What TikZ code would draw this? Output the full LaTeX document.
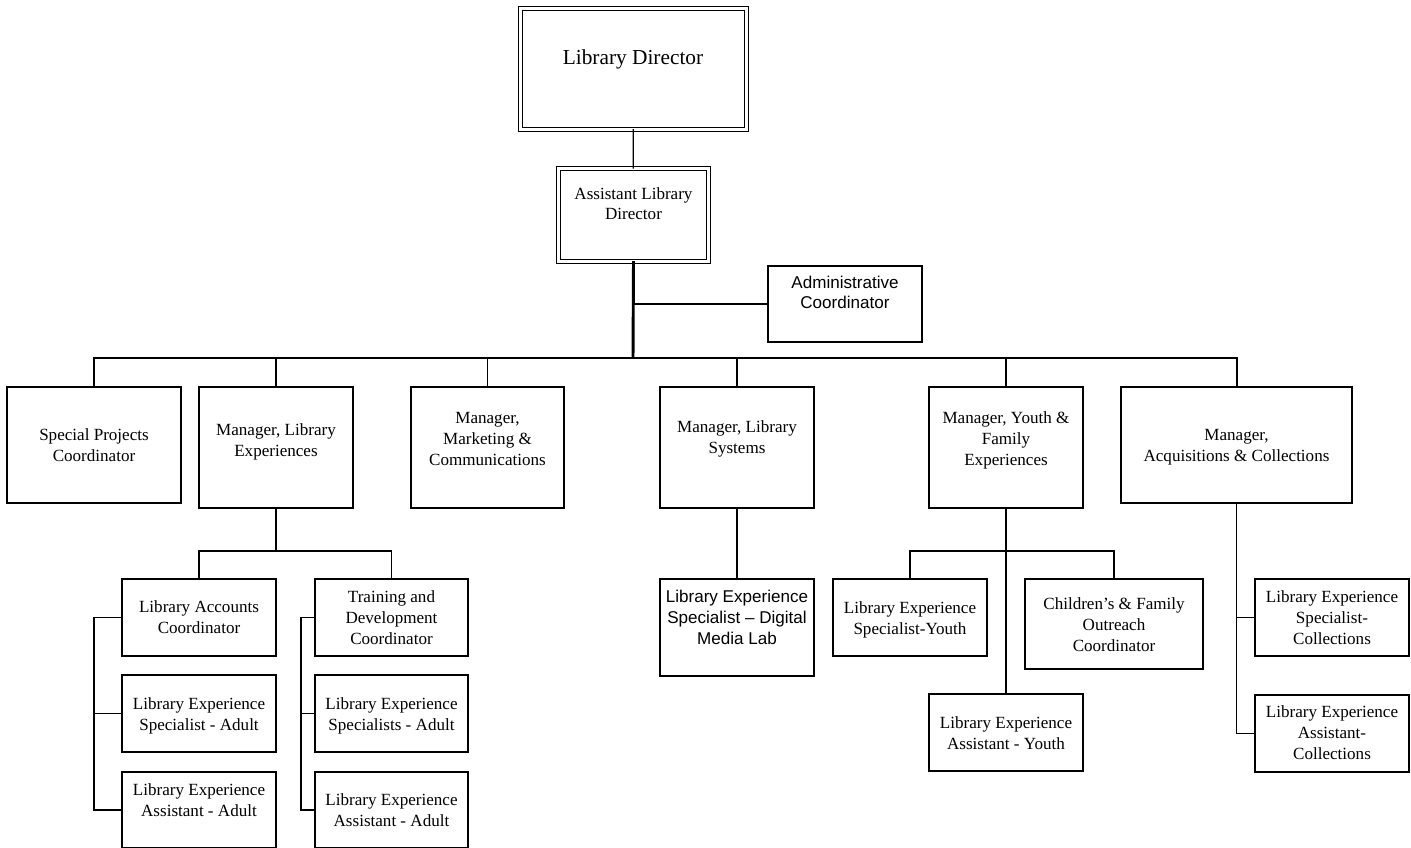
\documentclass[tikz,border=0pt]{standalone}
\usepackage{fontspec}
\setmainfont{Liberation Serif}
\newfontfamily\sansf{Liberation Sans}
\tikzset{
  box/.style={draw, rectangle, line width=0.9pt, inner sep=0pt, outer sep=0pt},
  dbox/.style={draw, rectangle, line width=0.75pt, double, double distance=2.25pt, inner sep=0pt, outer sep=0pt},
  txt/.style={align=center, inner sep=0pt, anchor=base, font=\fontsize{12.8}{15.4}\selectfont},
  link/.style={line width=0.9pt},
  bracket/.style={line width=1.1pt},
  trunk/.style={line width=2.2pt},
  busline/.style={line width=1.5pt},
}
% #6 = baseline of the last text line
\newcommand\obox[8]{%
  \node[box, minimum width={(#4-#2)*0.75pt}, minimum height={(#5-#3)*0.75pt}] (#1) at ({(#2+#4)/2},{(#3+#5)/2}) {};
  \node[txt,#7] (#1-t) at ({(#2+#4)/2},#6) {#8};}
\begin{document}
\begin{tikzpicture}[x=0.75pt,y=-0.75pt]
\clip (0,0) rectangle (1411,847);
\fill[white] (0,0) rectangle (1411,847);
% top
\node[dbox, minimum width={226*0.75pt}, minimum height={121*0.75pt}] (ld) at (633,68.5) {};
\node[txt, font=\fontsize{16}{19}\selectfont] (ld-t) at (633,64) {Library Director};
\node[dbox, minimum width={149.5*0.75pt}, minimum height={92.5*0.75pt}] (ald) at (633.5,214.75) {};
\node[txt, font=\fontsize{12.8}{14.3}\selectfont] (ald-t) at (633.5,219) {Assistant Library\\Director};
\obox{adm}{768}{266}{922}{342}{308}{font=\sansf\fontsize{12.8}{14.3}\selectfont}{Administrative\\Coordinator}
% level 2
\obox{sp}{7}{387}{181}{503}{461.5}{}{Special Projects\\Coordinator}
\obox{mle}{199}{387}{353}{508}{456.5}{}{Manager, Library\\Experiences}
\obox{mkt}{411}{387}{564}{508}{465}{}{Manager,\\Marketing \&\\Communications}
\obox{ls}{660}{387}{814}{508}{453.5}{}{Manager, Library\\Systems}
\obox{yth}{929}{387}{1083}{508}{465}{}{Manager, Youth \&\\Family\\Experiences}
\obox{acq}{1121}{387}{1352}{503}{461.5}{}{Manager,\\Acquisitions \& Collections}
% level 3 under library experiences
\obox{acc}{122}{579}{276}{656}{633.5}{}{Library Accounts\\Coordinator}
\obox{trn}{315}{579}{468}{656}{644}{}{Training and\\Development\\Coordinator}
\obox{spa}{122}{675}{276}{752}{730.5}{}{Library Experience\\Specialist - Adult}
\obox{sps}{315}{675}{468}{752}{730.5}{}{Library Experience\\Specialists - Adult}
\obox{asa}{122}{772}{276}{848}{816.5}{}{Library Experience\\Assistant - Adult}
\obox{asb}{315}{772}{468}{848}{826.5}{}{Library Experience\\Assistant - Adult}
% systems
\obox{dml}{660}{579}{814}{676}{644}{font=\sansf\fontsize{12.8}{15.4}\selectfont}{Library Experience\\Specialist – Digital\\Media Lab}
% youth
\obox{spy}{833}{579}{987}{656}{634.5}{}{Library Experience\\Specialist-Youth}
\obox{cfo}{1025}{579}{1203}{669}{651}{}{Children’s \& Family\\Outreach\\Coordinator}
\obox{asy}{929}{694}{1083}{771}{749.5}{}{Library Experience\\Assistant - Youth}
% collections
\obox{spc}{1255}{579}{1409}{656}{644}{}{Library Experience\\Specialist-\\Collections}
\obox{asc}{1255}{695}{1409}{772}{759}{}{Library Experience\\Assistant-\\Collections}
% coordinates
\coordinate (bus) at (633,358);
\coordinate (lebus) at (276,551);
\coordinate (ybus) at (1006,551);
\coordinate (brl) at (94,0);
\coordinate (brr) at (301,0);
% connectors
\draw[link] (ld) -- (ald);
\draw[trunk] (ald.south) -- (bus);
\draw[link] (adm.west) -- (adm.west -| bus);
\draw[busline] (sp.north) |- (bus);
\draw[busline] (acq.north) |- (bus);
\draw[link] (mle.north) -- (mle.north |- bus);
\draw[link] (mkt.north) -- (mkt.north |- bus);
\draw[link] (ls.north) -- (ls.north |- bus);
\draw[link] (yth.north) -- (yth.north |- bus);
% library experiences
\draw[link] (mle.south) -- (lebus);
\draw[link] (acc.north) |- (lebus);
\draw[link] (trn.north) |- (lebus);
\draw[bracket] (acc.west) -- (acc.west -| brl) -- (asa.west -| brl) -- (asa.west);
\draw[bracket] (spa.west) -- (spa.west -| brl);
\draw[bracket] (trn.west) -- (trn.west -| brr) -- (asb.west -| brr) -- (asb.west);
\draw[bracket] (sps.west) -- (sps.west -| brr);
% systems
\draw[link] (ls.south) -- (dml.north);
% youth
\draw[link] (yth.south) -- (asy.north);
\draw[link] (spy.north) |- (ybus);
\draw[link] (cfo.north) |- (ybus);
% collections
\draw[link] (acq.south) -- (acq.south |- asc.west) -- (asc.west);
\draw[link] (spc.west) -- (spc.west -| acq.south);
\end{tikzpicture}
\end{document}
